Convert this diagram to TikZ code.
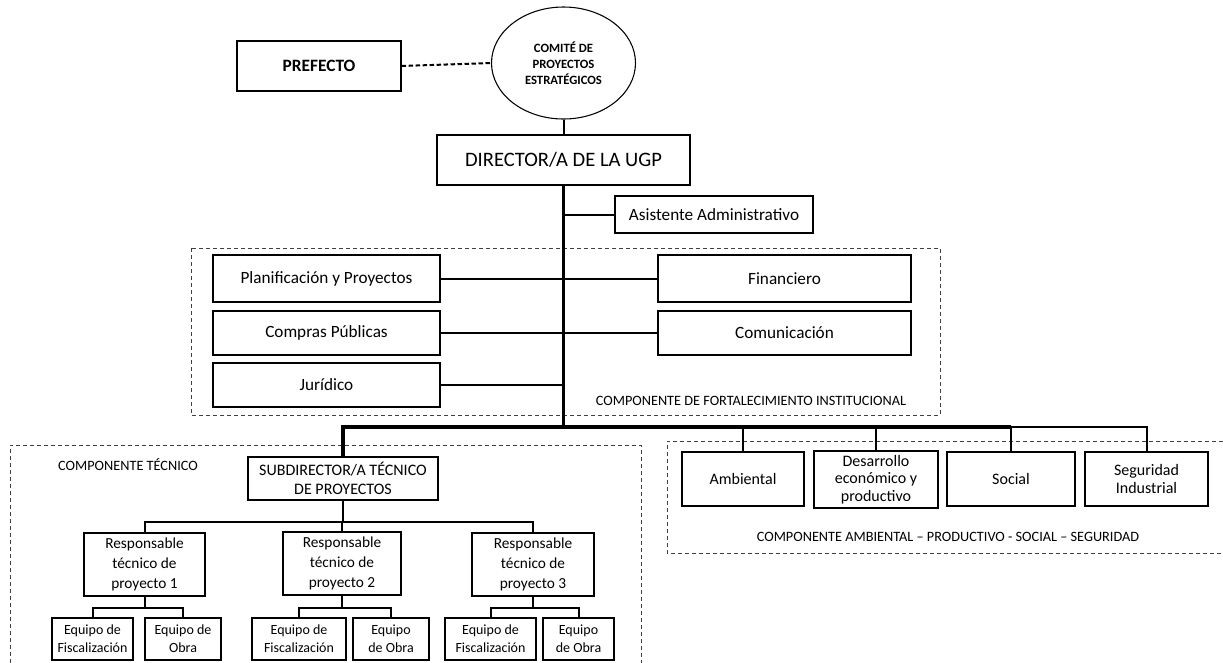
\documentclass[tikz,border=0pt]{standalone}
\usepackage{fontspec}
\setmainfont{Carlito}
\usetikzlibrary{shapes.geometric}

\newlength{\du}
\setlength{\du}{0.75pt}
\definecolor{dialinecolor}{rgb}{0.000000, 0.000000, 0.000000}
\definecolor{grupocolor}{rgb}{0.250000, 0.250000, 0.250000}

\tikzset{
  ugpbox/.style={draw=dialinecolor, line width=0.8pt, fill=white, inner sep=0pt, align=center, font=\fontsize{12.9}{15}\selectfont},
  respbox/.style={ugpbox, font=\fontsize{11.5}{15}\selectfont},
  areabox/.style={ugpbox, font=\fontsize{12}{14}\selectfont},
  equipobox/.style={ugpbox, font=\fontsize{10.5}{13.5}\selectfont},
  comite/.style={ellipse, draw=dialinecolor, line width=0.8pt, fill=white, inner sep=0pt, align=center, font=\bfseries\fontsize{9.5}{12}\selectfont},
  conn/.style={draw=dialinecolor, line width=1.5pt},
  spine/.style={draw=dialinecolor, line width=2.3pt},
  dashlink/.style={draw=dialinecolor, line width=1.5pt, dash pattern=on 4.5\du off 2.5\du},
  grupo/.style={draw=grupocolor, line width=0.6pt, dash pattern=on 4\du off 3\du},
  etiqueta/.style={inner sep=0pt, font=\fontsize{10.7}{12}\selectfont}
}

\begin{document}
\begin{tikzpicture}
\pgftransformxscale{1.000000}
\pgftransformyscale{-1.000000}
\useasboundingbox[fill=white] (0\du,0\du) rectangle (1223\du,662\du);

% componentes
\draw[grupo] (191\du,248\du) rectangle (940\du,415\du);
\draw[grupo] (10\du,670\du) -- (10\du,445\du) -- (641\du,445\du) -- (641\du,670\du);
\draw[grupo] (1230\du,441\du) -- (667\du,441\du) -- (667\du,553\du) -- (1230\du,553\du);

\node[etiqueta] (lblfort) at (751\du,401\du) {COMPONENTE DE FORTALECIMIENTO INSTITUCIONAL};
\node[etiqueta] (lbltec) at (128\du,465\du) {COMPONENTE TÉCNICO};
\node[etiqueta] (lblamb) at (948\du,537\du) {COMPONENTE AMBIENTAL – PRODUCTIVO - SOCIAL – SEGURIDAD};

% direccion
\node[ugpbox, font=\bfseries\fontsize{13}{15}\selectfont, minimum width=164\du, minimum height=50\du] (pref) at (319\du,66\du) {PREFECTO};
\node[comite, minimum width=144\du, minimum height=112\du] (comite) at (563.5\du,63\du) {COMITÉ DE\\PROYECTOS\\ESTRATÉGICOS};
\node[ugpbox, font=\fontsize{15.4}{18}\selectfont, minimum width=253\du, minimum height=50\du] (dir) at (563.5\du,160\du) {DIRECTOR/A DE LA UGP};
\node[ugpbox, minimum width=198\du, minimum height=37\du] (asis) at (714\du,214.5\du) {Asistente Administrativo};
\coordinate (bus) at (563.5\du,427\du);

% fortalecimiento institucional
\node[ugpbox, minimum width=227\du, minimum height=47\du] (plan) at (326.5\du,278.5\du) {Planificación y Proyectos};
\node[ugpbox, minimum width=227\du, minimum height=44\du] (compras) at (326.5\du,333\du) {Compras Públicas};
\node[ugpbox, minimum width=227\du, minimum height=44\du] (jur) at (326.5\du,385\du) {Jurídico};
\node[ugpbox, minimum width=253\du, minimum height=47\du] (fin) at (784.5\du,278.5\du) {Financiero};
\node[ugpbox, minimum width=253\du, minimum height=44\du] (com) at (784.5\du,333\du) {Comunicación};

% componente tecnico
\node[ugpbox, font=\fontsize{12}{14.5}\selectfont, minimum width=190\du, minimum height=43\du] (sub) at (343\du,478.5\du) {SUBDIRECTOR/A TÉCNICO\\DE PROYECTOS};
\coordinate (subfork) at (343\du,522\du);
\node[respbox, minimum width=121\du, minimum height=63\du] (resp1) at (144.5\du,564.5\du) {Responsable\\técnico de\\proyecto 1};
\node[respbox, minimum width=118\du, minimum height=63\du] (resp2) at (342\du,563.5\du) {Responsable\\técnico de\\proyecto 2};
\node[respbox, minimum width=122\du, minimum height=63\du] (resp3) at (533\du,564.5\du) {Responsable\\técnico de\\proyecto 3};
\node[equipobox, minimum width=81\du, minimum height=42\du] (fisc1) at (92.5\du,639\du) {Equipo de\\Fiscalización};
\node[equipobox, minimum width=76\du, minimum height=42\du] (obra1) at (183\du,639\du) {Equipo de\\Obra};
\node[equipobox, minimum width=94\du, minimum height=42\du] (fisc2) at (299\du,639\du) {Equipo de\\Fiscalización};
\node[equipobox, minimum width=76\du, minimum height=42\du] (obra2) at (391\du,639\du) {Equipo\\de Obra};
\node[equipobox, minimum width=91\du, minimum height=42\du] (fisc3) at (490.5\du,639\du) {Equipo de\\Fiscalización};
\node[equipobox, minimum width=71\du, minimum height=42\du] (obra3) at (578.5\du,639\du) {Equipo\\de Obra};
\coordinate (fork1) at (144.5\du,608\du);
\coordinate (fork2) at (342\du,608\du);
\coordinate (fork3) at (533\du,608\du);

% componente ambiental - productivo - social - seguridad
\node[areabox, minimum width=122\du, minimum height=54\du] (amb) at (743\du,479\du) {Ambiental};
\node[areabox, font=\fontsize{12}{13.3}\selectfont, minimum width=124\du, minimum height=57\du] (des) at (876\du,479.5\du) {Desarrollo\\económico y\\productivo};
\node[areabox, minimum width=128\du, minimum height=54\du] (soc) at (1011\du,479\du) {Social};
\node[areabox, minimum width=123\du, minimum height=54\du] (seg) at (1146.5\du,479\du) {Seguridad\\Industrial};

% conectores
\draw[dashlink] (pref.east) -- (comite.west);
\draw[conn] (comite.south) -- (dir.north);
\draw[spine] (dir.south) -- (bus);
\draw[conn] (asis.west) -- (asis.west -| bus);
\draw[conn] (plan.east) -- (plan.east -| bus);
\draw[conn] (compras.east) -- (compras.east -| bus);
\draw[conn] (jur.east) -- (jur.east -| bus);
\draw[conn] (fin.west) -- (fin.west -| bus);
\draw[conn] (com.west) -- (com.west -| bus);
\draw[spine] (sub.north) |- (bus);
\draw[spine] (bus) -- (bus -| soc.north);
\draw[conn] (amb.north) -- (amb.north |- bus);
\draw[conn] (des.north) -- (des.north |- bus);
\draw[conn] (soc.north) -- (soc.north |- bus);
\draw[conn] (seg.north) |- (bus -| soc.north);
\draw[conn] (sub.south) -- (subfork);
\draw[conn] (resp1.north) |- (subfork) -| (resp3.north);
\draw[conn] (resp2.north) -- (resp2.north |- subfork);
\draw[conn] (resp1.south) -- (fork1);
\draw[conn] (fisc1.north) |- (fork1) -| (obra1.north);
\draw[conn] (resp2.south) -- (fork2);
\draw[conn] (fisc2.north) |- (fork2) -| (obra2.north);
\draw[conn] (resp3.south) -- (fork3);
\draw[conn] (fisc3.north) |- (fork3) -| (obra3.north);
\end{tikzpicture}
\end{document}
